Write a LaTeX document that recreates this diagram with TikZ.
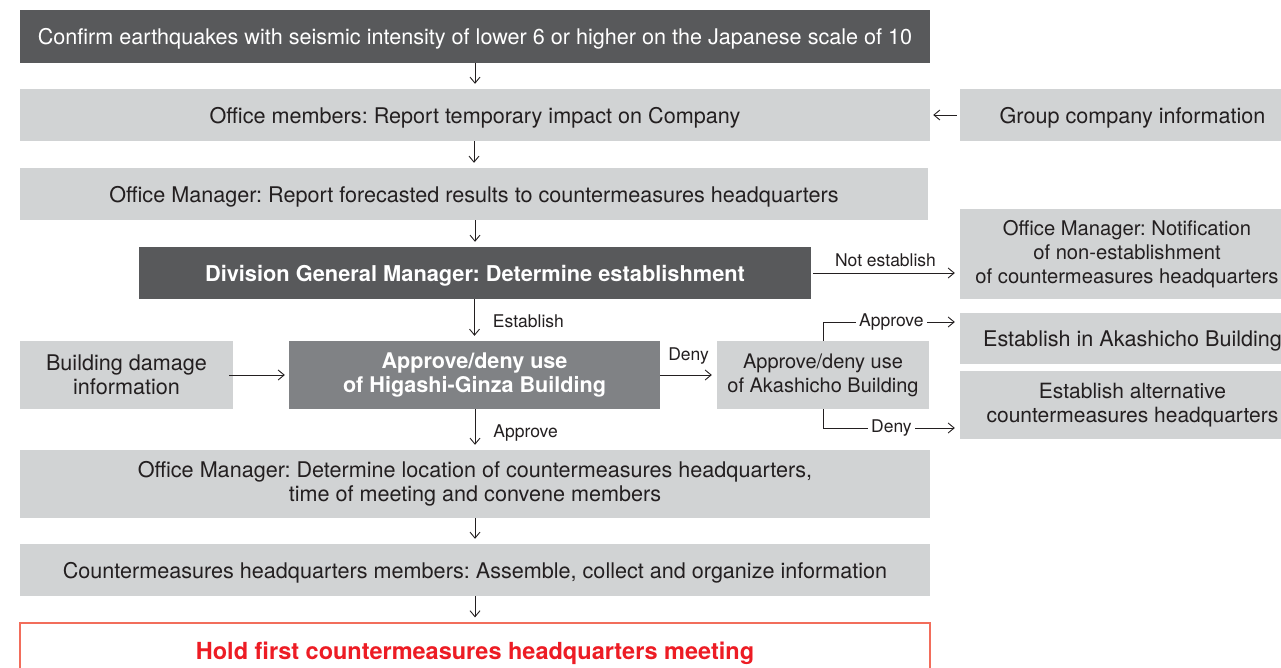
\documentclass[tikz,border=0pt]{standalone}
\usepackage{fontspec}
\setmainfont{TeX Gyre Heros}
\usetikzlibrary{arrows.meta,positioning}
\definecolor{boxdark}{HTML}{58595B}
\definecolor{boxmid}{HTML}{808285}
\definecolor{boxlight}{HTML}{D1D3D4}
\definecolor{inkgray}{HTML}{231F20}
\definecolor{alertred}{HTML}{ED1C24}
\definecolor{alertline}{HTML}{F26D5B}
\tikzset{
  base/.style={inner sep=0pt, align=center, font=\frenchspacing\fontsize{21.6}{24.5}\selectfont},
  one/.style={text depth=0pt},
  darkbox/.style={base, fill=boxdark, text=white},
  midbox/.style={base, fill=boxmid, text=white},
  lightbox/.style={base, fill=boxlight, text=inkgray},
  redbox/.style={base, fill=white, draw=alertline, line width=1.2pt, text=alertred},
  flow/.style={draw=inkgray, line width=0.9pt, -{Straight Barb[length=6pt,width=10pt]}},
  lbl/.style={font=\fontsize{17.5}{20}\selectfont, text=inkgray, inner sep=1pt},
}
\begin{document}
\begin{tikzpicture}[x=1pt,y=-1pt]
\useasboundingbox (0,0) rectangle (1281,668);

% main column
\node[darkbox, one, minimum width=910, minimum height=53] (b1) at (475,36.5)
  {Confirm earthquakes with seismic intensity of lower 6 or higher on the Japanese scale of 10};
\node[lightbox, one, minimum width=910, minimum height=52] (b2) at (475,115)
  {Office members: Report temporary impact on Company};
\node[lightbox, one, minimum width=908, minimum height=52] (b3) at (474,194)
  {Office Manager: Report forecasted results to countermeasures headquarters};
\node[darkbox, one, minimum width=672, minimum height=52, font=\frenchspacing\fontsize{21.8}{24.5}\selectfont\bfseries] (b4) at (475,273)
  {Division General Manager: Determine establishment};
\node[midbox, minimum width=371, minimum height=68, font=\frenchspacing\fontsize{21.6}{24.5}\selectfont\bfseries] (hg) at (474.5,375)
  {Approve/deny use\\of Higashi-Ginza Building};
\node[lightbox, minimum width=910, minimum height=68] (b5) at (475,484)
  {Office Manager: Determine location of countermeasures headquarters,\\time of meeting and convene members};
\node[lightbox, one, minimum width=910, minimum height=52] (b6) at (475,570)
  {Countermeasures headquarters members: Assemble, collect and organize information};
\node[redbox, one, minimum width=910, minimum height=56, font=\frenchspacing\fontsize{23.5}{26}\selectfont\bfseries] (b7) at (475,651)
  {Hold first countermeasures headquarters meeting};

% side inputs and outcomes
\node[lightbox, minimum width=213, minimum height=68] (bd) at (126.5,375)
  {Building damage\\information};
\node[lightbox, minimum width=212, minimum height=68, font=\frenchspacing\fontsize{20}{24}\selectfont] (ak) at (823,375)
  {Approve/deny use\\of Akashicho Building};
\node[lightbox, one, minimum width=345, minimum height=52] (gc) at (1132.5,115)
  {Group company information};
\node[lightbox, minimum width=345, minimum height=90] (nt) at (1132.5,254) {};
\node[base, text=inkgray, font=\frenchspacing\fontsize{20.2}{24}\selectfont] (ntx) at (1127,254)
  {Office Manager: Notification\\of non-establishment\\of countermeasures headquarters};
\node[lightbox, one, minimum width=345, minimum height=51] (ea) at (1132.5,338.5)
  {Establish in Akashicho Building};
\node[lightbox, minimum width=345, minimum height=68, font=\frenchspacing\fontsize{21}{24}\selectfont] (ex) at (1132.5,405)
  {Establish alternative\\countermeasures headquarters};

% vertical flow
\draw[flow, shorten >=5pt] (b1) -- (b2);
\draw[flow, shorten >=5pt] (b2.south -| b3) -- (b3);
\draw[flow, shorten >=5pt] (b3.south -| b4) -- (b4);
\draw[flow, shorten >=5pt] (b4.south -| hg) -- (hg)
  node[lbl, midway, right=17pt, yshift=-1pt] {Establish};
\draw[flow, shorten >=5pt] (hg.south -| b5) -- (b5)
  node[lbl, midway, right=17pt, yshift=-4pt] {Approve};
\draw[flow, shorten >=5pt] (b5) -- (b6);
\draw[flow, shorten >=5pt] (b6) -- (b7);

% horizontal connectors
\draw[flow, shorten <=3pt, shorten >=3pt] (gc.west) -- (gc.west -| b2.east);
\draw[flow, shorten <=2pt, shorten >=5pt] (b4.east) -- (b4.east -| nt.west)
  node[lbl, midway, above=5pt] {Not establish};
\draw[flow, shorten <=-4pt, shorten >=4pt] (bd) -- (hg);
\draw[flow, shorten <=0pt, shorten >=5pt] (hg) -- (ak)
  node[lbl, midway, above=9pt] {Deny};
\coordinate (apr) at (823,322);
\coordinate (dny) at (823,428);
\draw[flow, shorten >=5pt] (ak.north) -- (apr) -- node[lbl, fill=white, inner xsep=3pt] {Approve} (apr -| ea.west);
\draw[flow, shorten >=5pt] (ak.south) -- (dny) -- node[lbl, fill=white, inner xsep=3pt] {Deny} (dny -| ex.west);
\end{tikzpicture}
\end{document}
